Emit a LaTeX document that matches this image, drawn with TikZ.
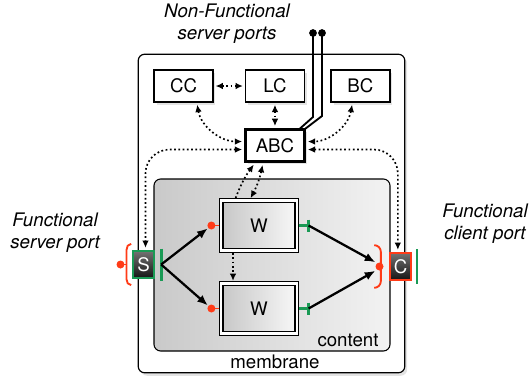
\documentclass[tikz,border=0pt]{standalone}
\usepackage{fontspec}
\setmainfont{TeX Gyre Heros}
\usetikzlibrary{arrows.meta,shadows,positioning}

\definecolor{portred}{HTML}{FF3B17}
\definecolor{portgreen}{HTML}{1A9A55}

\tikzset{
  softshadow/.style={drop shadow={opacity=0.22, shadow xshift=1.8pt, shadow yshift=-2.2pt}},
  box/.style={draw, line width=1.1pt, fill=white, minimum width=44pt, minimum height=24pt, inner sep=0pt, softshadow},
  abcbox/.style={box, line width=2.2pt},
  membranebox/.style={draw, line width=0.9pt, fill=white, rounded corners=5pt, softshadow},
  contentbox/.style={draw, line width=0.8pt, rounded corners=5pt, left color=black!21, right color=black!5},
  wbox/.style={draw, line width=0.9pt, double=white, double distance=1.7pt, minimum width=56.5pt, minimum height=37.5pt,
    left color=black!22, right color=black!3, softshadow},
  portbox/.style={line width=1.5pt, minimum width=16pt, minimum height=20.5pt, inner sep=0pt,
    top color=black!55, bottom color=black!92, text=white},
  sportbox/.style={portbox, draw=portgreen},
  cportbox/.style={portbox, draw=portred},
  ctrl/.style={dash pattern=on 1.3pt off 1.9pt, line width=1.25pt, shorten <=1.5pt, shorten >=1.5pt},
  flow/.style={line width=1.7pt, -{Latex[length=8pt,width=6.5pt]}, shorten >=3.5pt},
  rline/.style={portred, line width=1.4pt},
  gline/.style={portgreen, line width=2pt},
  nfline/.style={line width=1.4pt},
  lbl/.style={align=center, font=\fontsize{14}{16.5}\selectfont\itshape}
}

\begin{document}
\begin{tikzpicture}[x=0.75pt, y=-0.75pt, font=\fontsize{14}{16.5}\selectfont, >={Latex[length=5.5pt,width=5pt]}]
  \useasboundingbox (0,0) rectangle (530,379);

  % composite: membrane and content
  \node[membranebox, minimum width=200pt, minimum height=239pt] (membrane) at (271.5,213.5) {};
  \node[contentbox, minimum width=177pt, minimum height=129pt] (content) at (272,265) {};
  \node (membranetxt) at (275,362) {membrane};
  \node (contenttxt) at (348,340) {content};

  % controllers
  \node[box] (cc) at (183.5,86) {CC};
  \node[box, right=23.5pt of cc] (lc) {LC};
  \node[box, right=19pt of lc] (bc) {BC};
  \node[abcbox, below=19pt of lc] (abc) {ABC};

  % sub components
  \node[wbox] (wtop) at (259,225.5) {W};
  \node[wbox] (wbot) at (259,308.5) {W};

  % external ports
  \node[sportbox] (sport) at (143.5,264.5) {S};
  \node[cportbox] (cport) at (400.5,266.5) {C};

  % non-functional server ports
  \coordinate (nfA) at (313,33);
  \coordinate (nfB) at (322,33);
  \draw[nfline] ([xshift=-4.5pt,yshift=-0.5pt]abc.north east) -- (nfA |- 0,117) -- (nfA);
  \draw[nfline] ([xshift=-1pt,yshift=-1pt]abc.north east) -- (nfB |- 0,116) -- (nfB);
  \fill (nfA) circle (2.9pt) (nfB) circle (2.9pt);

  % control links
  \draw[ctrl,<->] (cc) -- (lc);
  \draw[ctrl,<->] (lc) -- (abc);
  \draw[ctrl,<->] ([xshift=10pt]cc.south) to[out=-80,in=180] ([yshift=3pt]abc.west);
  \draw[ctrl,<->] ([xshift=-6pt]bc.south) to[out=-100,in=0] ([yshift=3pt]abc.east);
  \draw[ctrl,<->,rounded corners=18pt] ([yshift=-3pt]abc.west) -| ([xshift=1.5pt]sport.north);
  \draw[ctrl,<->,rounded corners=18pt] ([yshift=-3pt]abc.east) -| ([xshift=-2pt]cport.north);
  \draw[ctrl,->] ([xshift=-18pt]wtop.north) to[bend left=8] ([xshift=-15pt]abc.south);
  \draw[ctrl,<->] ([xshift=-9pt]abc.south) to[bend left=8] ([xshift=-7pt]wtop.north);
  \draw[ctrl,->] ([xshift=-19.5pt]wtop.south) -- ([xshift=-19.5pt]wbot.north);

  % server port: bracket, lollipop and bar
  \draw[rline] ([xshift=-0.5pt,yshift=15.5pt]sport.west) to[out=180,in=90] ([xshift=-4pt,yshift=11pt]sport.west)
    -- ([xshift=-4pt,yshift=-11pt]sport.west) to[out=-90,in=180] ([xshift=-0.5pt,yshift=-15.5pt]sport.west);
  \draw[rline] ([xshift=-4pt]sport.west) -- ++(-4.5pt,0) coordinate (sdot);
  \fill[portred] (sdot) circle (3pt);
  \coordinate (sbar) at ([xshift=4.5pt]sport.east);
  \draw[gline] ([yshift=12pt]sbar) -- ([yshift=-12pt]sbar);

  % client port: bracket, dot and bar
  \coordinate (cdot) at ([xshift=-7pt]cport.west);
  \draw[rline] ([xshift=-11pt,yshift=16pt]cport.west) to[out=0,in=90] ([xshift=-6pt,yshift=11pt]cport.west)
    -- ([xshift=-6pt,yshift=-11pt]cport.west) to[out=-90,in=0] ([xshift=-11pt,yshift=-16pt]cport.west);
  \fill[portred] (cdot) circle (3pt);
  \coordinate (cbar) at ([xshift=3.5pt]cport.east);
  \draw[gline] ([yshift=13pt]cbar) -- ([yshift=-13pt]cbar);

  % sub component ports
  \foreach \wName in {wtop, wbot} {
    \draw[rline] ([xshift=-1pt]\wName.west) -- ++(-6pt,0) coordinate (\wName In);
    \fill[portred] (\wName In) circle (3pt);
    \draw[gline] ([xshift=1pt]\wName.east) -- ++(7.5pt,0) coordinate (\wName Out);
    \draw[gline] ([yshift=4.5pt]\wName Out) -- ([yshift=-4.5pt]\wName Out);
  }

  % bindings
  \draw[flow] (sbar) -- (wtopIn);
  \draw[flow] (sbar) -- (wbotIn);
  \draw[flow] (wtopOut) -- ([yshift=1.5pt]cdot);
  \draw[flow] (wbotOut) -- ([yshift=-1.5pt]cdot);

  % labels
  \node[lbl] (nflabel) at (227,24) {Non-Functional\\server ports};
  \node[lbl] (fslabel) at (55,233) {Functional\\server port};
  \node[lbl] (fclabel) at (485,224) {Functional\\client port};
\end{tikzpicture}
\end{document}
